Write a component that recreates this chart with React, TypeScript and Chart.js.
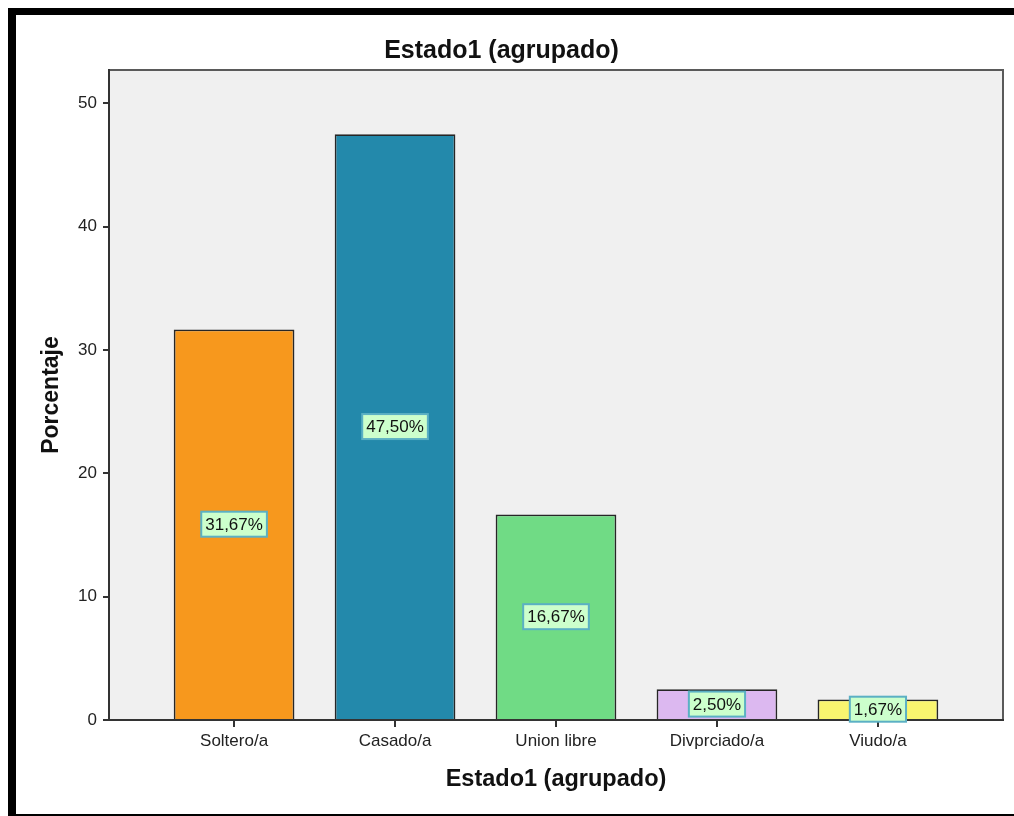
import React, { useEffect, useRef } from "react";
import { Chart, registerables } from "chart.js";

Chart.register(...registerables);

const CATEGORIES = ["Soltero/a", "Casado/a", "Union libre", "Divprciado/a", "Viudo/a"];
const VALUES = [31.67, 47.5, 16.67, 2.5, 1.67];
const COLORS = ["#F7981D", "#2389AB", "#70DB85", "#DCB8F0", "#F9F56F"];
const Y_TICKS = [0, 10, 20, 30, 40, 50];

const FONT = '"Liberation Sans", Arial, sans-serif';

const areaPlugin = {
  id: "areaBg",
  beforeDraw(chart: any) {
    const { ctx, chartArea: a } = chart;
    ctx.save();
    ctx.fillStyle = "#F0F0F0";
    ctx.fillRect(a.left, a.top, a.right - a.left, a.bottom - a.top);
    ctx.strokeStyle = "#5A5A5A";
    ctx.lineWidth = 2;
    ctx.strokeRect(a.left, a.top, a.right - a.left, a.bottom - a.top);
    ctx.restore();
  },
};

const labelPlugin = {
  id: "barLabels",
  afterDatasetsDraw(chart: any) {
    const { ctx } = chart;
    const meta = chart.getDatasetMeta(0);
    ctx.save();
    ctx.font = "17px " + FONT;
    ctx.textAlign = "center";
    ctx.textBaseline = "middle";
    meta.data.forEach((bar: any, i: number) => {
      const { x, y, base } = bar.getProps(["x", "y", "base"], true);
      const cy = (y + base) / 2;
      const text = VALUES[i].toFixed(2).replace(".", ",") + "%";
      const w = ctx.measureText(text).width + 8;
      const h = 25;
      ctx.fillStyle = "#CCFFCC";
      ctx.fillRect(x - w / 2, cy - h / 2, w, h);
      ctx.strokeStyle = "#5BB0C4";
      ctx.lineWidth = 2;
      ctx.strokeRect(x - w / 2, cy - h / 2, w, h);
      ctx.fillStyle = "#111";
      ctx.fillText(text, x, cy + 1);
    });
    ctx.restore();
  },
};

export default function App() {
  const ref = useRef<HTMLCanvasElement | null>(null);
  useEffect(() => {
    if (!ref.current) return;
    const chart = new Chart(ref.current, {
      type: "bar",
      data: {
        datasets: [
          {
            data: VALUES.map((v, i) => ({ x: i, y: v })),
            backgroundColor: COLORS,
            borderColor: "#262626",
            borderWidth: 1.8,
            barPercentage: 0.75,
            categoryPercentage: 1,
          } as any,
        ],
      },
      options: {
        responsive: false,
        animation: false,
        layout: { padding: { left: 0, right: 11, top: 0, bottom: 0 } },
        plugins: {
          legend: { display: false },
          tooltip: { enabled: false },
          title: {
            display: true,
            text: "Estado1 (agrupado)",
            color: "#111",
            font: { family: FONT, size: 25, weight: "bold" },
            padding: { top: 36, bottom: 4 },
          },
        },
        scales: {
          x: {
            type: "linear",
            offset: false,
            min: -0.777,
            max: 4.777,
            afterBuildTicks: (s: any) => {
              s.ticks = CATEGORIES.map((_, i) => ({ value: i }));
            },
            afterFit: (s: any) => {
              s.height = 96;
            },
            ticks: {
              callback: (v: any) => CATEGORIES[v],
              color: "#222",
              font: { family: FONT, size: 17 },
              padding: 4,
              maxRotation: 0,
              autoSkip: false,
            },
            grid: { offset: false, drawOnChartArea: false, drawTicks: true, tickLength: 7, color: "#333", lineWidth: 2 },
            border: { display: true, color: "#333", width: 2 },
            title: {
              display: true,
              text: "Estado1 (agrupado)",
              color: "#111",
              font: { family: FONT, size: 23.5, weight: "bold" },
              padding: { top: 0, bottom: 22 },
            },
          },
          y: {
            type: "linear",
            min: 0,
            max: 52.7,
            afterBuildTicks: (s: any) => {
              s.ticks = Y_TICKS.map((v) => ({ value: v }));
            },
            afterFit: (s: any) => {
              s.width = 109;
            },
            ticks: {
              color: "#222",
              font: { family: FONT, size: 17 },
              padding: 6,
            },
            grid: { drawOnChartArea: false, drawTicks: true, tickLength: 6, color: "#333", lineWidth: 2 },
            border: { display: true, color: "#333", width: 2 },
            title: {
              display: true,
              text: "Porcentaje",
              color: "#111",
              font: { family: FONT, size: 23, weight: "bold" },
              padding: { top: 38, bottom: 0 },
            },
          },
        },
      },
      plugins: [areaPlugin, labelPlugin],
    });
    return () => chart.destroy();
  }, []);

  return (
    <div>
      <div style={{ position: "fixed", left: 0, top: 0, width: 1014, height: 816, background: "#fff" }}>
        <canvas ref={ref} width={1014} height={816} style={{ display: "block" }} />
      </div>
      <div
        style={{
          position: "fixed",
          left: 8,
          top: 8,
          width: 1006,
          height: 808,
          boxSizing: "border-box",
          borderTop: "7px solid #000",
          borderLeft: "8px solid #000",
          borderBottom: "2px solid #000",
          pointerEvents: "none",
        }}
      />
    </div>
  );
}
